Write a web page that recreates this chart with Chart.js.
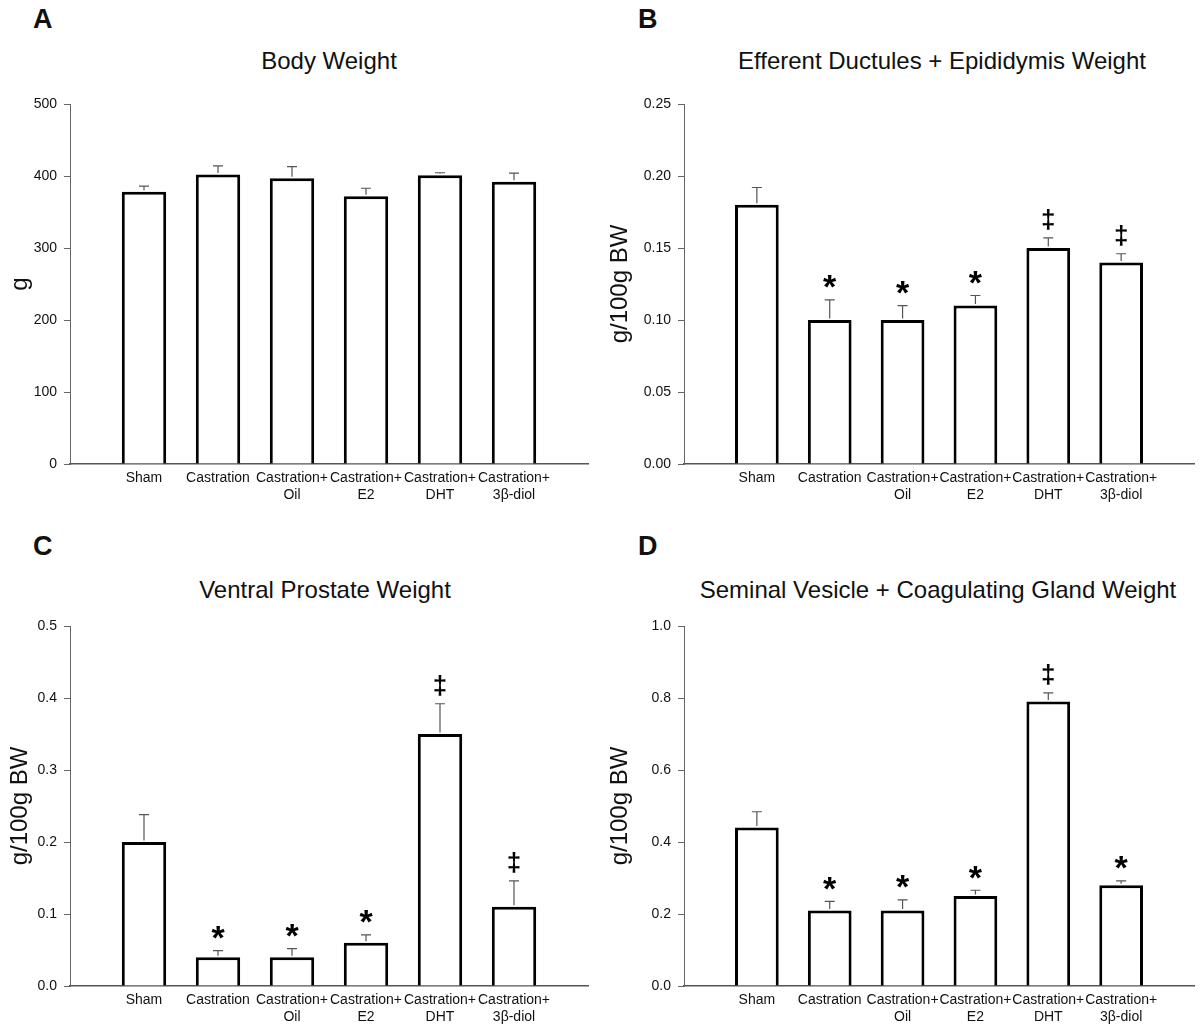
<!DOCTYPE html>
<html>
<head>
<meta charset="utf-8">
<script src="https://cdn.jsdelivr.net/npm/chart.js@4.4.1/dist/chart.umd.min.js"></script>
<style>
  body { margin: 0; background: #fff; }
  #page { position: relative; width: 1200px; height: 1027px; overflow: hidden; font-family: "Liberation Sans", Arial, sans-serif; color: #111; }
  canvas { position: absolute; }
  .letter { position: absolute; font-weight: bold; font-size: 27px; line-height: 27px; }
  .title { position: absolute; width: 600px; text-align: center; font-size: 24px; line-height: 24px; white-space: nowrap; }
</style>
</head>
<body>
<div id="page">
  <div class="letter" style="left:33px; top:6px;">A</div>
  <div class="letter" style="left:638px; top:6px;">B</div>
  <div class="letter" style="left:33px; top:533px;">C</div>
  <div class="letter" style="left:638px; top:533px;">D</div>

  <div class="title" style="left:29px; top:49px;">Body Weight</div>
  <div class="title" style="left:642px; top:49px;">Efferent Ductules + Epididymis Weight</div>
  <div class="title" style="left:25px; top:578px;">Ventral Prostate Weight</div>
  <div class="title" style="left:638px; top:578px;">Seminal Vesicle + Coagulating Gland Weight</div>

  <canvas id="chartA" width="600" height="520" style="left:0; top:0;"></canvas>
  <canvas id="chartB" width="600" height="520" style="left:600px; top:0;"></canvas>
  <canvas id="chartC" width="600" height="507" style="left:0; top:520px;"></canvas>
  <canvas id="chartD" width="600" height="507" style="left:600px; top:520px;"></canvas>
</div>
<script>
// treatment groups (x axis)
const groups = ['Sham', 'Castration', ['Castration+', 'Oil'], ['Castration+', 'E2'], ['Castration+', 'DHT'], ['Castration+', '3β-diol']];

// A - body weight (g)
const bodyWeight = [378, 402, 397, 372, 401, 392];
const bodyWeightErr = [8, 12, 16, 11, 3.5, 12];
const bodyWeightMarks = ['', '', '', '', '', ''];

// B - efferent ductules + epididymis (g/100g BW)
const epididymis = [0.18, 0.10, 0.10, 0.11, 0.15, 0.14];
const epididymisErr = [0.012, 0.014, 0.010, 0.007, 0.007, 0.006];
const epididymisMarks = ['', '*', '*', '*', '‡', '‡'];

// C - ventral prostate (g/100g BW)
const prostate = [0.20, 0.04, 0.04, 0.06, 0.35, 0.11];
const prostateErr = [0.038, 0.009, 0.012, 0.011, 0.042, 0.036];
const prostateMarks = ['', '*', '*', '*', '‡', '‡'];

// D - seminal vesicle + coagulating gland (g/100g BW)
const seminal = [0.44, 0.21, 0.21, 0.25, 0.79, 0.28];
const seminalErr = [0.044, 0.025, 0.029, 0.016, 0.024, 0.012];
const seminalMarks = ['', '*', '*', '*', '‡', '*'];

const FONT = '"Liberation Sans", Arial, sans-serif';

// draws the upper half error bars and the significance symbols above them
const errorBars = {
    id: 'errorBars',
    afterDatasetsDraw(chart, args, opts) {
        const ctx = chart.ctx;
        const x = chart.scales.x;
        const y = chart.scales.y;
        const values = chart.data.datasets[0].data;
        ctx.save();
        ctx.strokeStyle = '#555';
        ctx.lineWidth = 1.2;
        for (let i = 0; i < opts.errors.length; i++) {
            const v = values[i + 1];
            const px = x.getPixelForValue(i + 1);
            const yBar = y.getPixelForValue(v);
            const yTop = y.getPixelForValue(v + opts.errors[i]);
            ctx.beginPath();
            ctx.moveTo(px, yBar - 1.5);
            ctx.lineTo(px, yTop);
            ctx.moveTo(px - 5, yTop);
            ctx.lineTo(px + 5, yTop);
            ctx.stroke();

            const mark = opts.marks[i];
            if (mark) {
                ctx.fillStyle = '#000';
                ctx.font = mark === '*' ? 'bold 34px ' + FONT : 'bold 26px ' + FONT;
                ctx.textAlign = 'center';
                ctx.textBaseline = 'alphabetic';
                const m = ctx.measureText(mark);
                const cy = yTop - 18;
                ctx.fillText(mark, px, cy + (m.actualBoundingBoxAscent - m.actualBoundingBoxDescent) / 2);
            }
        }
        ctx.restore();
    }
};

function drawPanel(id, values, errors, marks, cfg)
{
    const ctx = document.getElementById(id).getContext('2d');
    return new Chart(ctx, {
        type: 'bar',
        data: {
            labels: [''].concat(groups, ['']),
            datasets: [{
                data: [null].concat(values, [null]),
                backgroundColor: '#fff',
                borderColor: '#000',
                borderWidth: 3,
                barPercentage: 0.6,
                categoryPercentage: 1
            }]
        },
        plugins: [errorBars],
        options: {
            responsive: false,
            animation: false,
            layout: {
                padding: {top: cfg.top, right: cfg.right, bottom: 0, left: 0}
            },
            plugins: {
                legend: {display: false},
                tooltip: {enabled: false},
                errorBars: {errors: errors, marks: marks}
            },
            scales: {
                x: {
                    offset: false,
                    grid: {display: false, drawTicks: false, tickLength: 0},
                    border: {display: true, color: '#555', width: 1.5},
                    ticks: {
                        autoSkip: false,
                        maxRotation: 0,
                        minRotation: 0,
                        padding: 6,
                        color: '#111',
                        font: {family: FONT, size: 14}
                    },
                    afterFit: function(scale) { scale.height = cfg.xHeight; }
                },
                y: {
                    min: 0,
                    max: cfg.max,
                    grid: {display: true, drawOnChartArea: false, drawTicks: true, tickLength: 6, color: '#666'},
                    border: {display: true, color: '#666', width: 1},
                    ticks: {
                        stepSize: cfg.step,
                        padding: 7,
                        color: '#111',
                        font: {family: FONT, size: 14},
                        callback: function(value) { return value.toFixed(cfg.decimals); }
                    },
                    title: {
                        display: true,
                        text: cfg.yTitle,
                        color: '#111',
                        padding: {top: 6, bottom: 0},
                        font: {family: FONT, size: 24}
                    },
                    afterFit: function(scale) { scale.width = cfg.yWidth; }
                }
            }
        }
    });
}

drawPanel('chartA', bodyWeight, bodyWeightErr, bodyWeightMarks,
    {top: 104, right: 12, xHeight: 56, yWidth: 70, max: 500, step: 100, decimals: 0, yTitle: 'g'});
drawPanel('chartB', epididymis, epididymisErr, epididymisMarks,
    {top: 104, right: 0, xHeight: 56, yWidth: 84, max: 0.25, step: 0.05, decimals: 2, yTitle: 'g/100g BW'});
drawPanel('chartC', prostate, prostateErr, prostateMarks,
    {top: 106, right: 12, xHeight: 41, yWidth: 70, max: 0.5, step: 0.1, decimals: 1, yTitle: 'g/100g BW'});
drawPanel('chartD', seminal, seminalErr, seminalMarks,
    {top: 106, right: 0, xHeight: 41, yWidth: 84, max: 1.0, step: 0.2, decimals: 1, yTitle: 'g/100g BW'});
</script>
</body>
</html>
